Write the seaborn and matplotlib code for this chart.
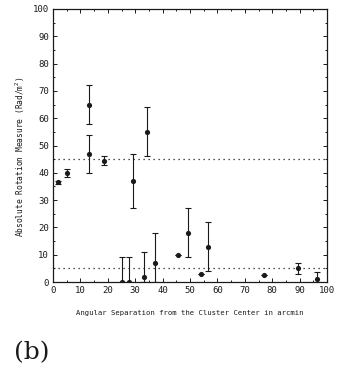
import matplotlib
matplotlib.use("Agg")
import matplotlib.pyplot as plt
from matplotlib.ticker import MultipleLocator
import numpy as np
import pandas as pd
import seaborn as sns

# Rotation measure versus angular distance from the cluster centre
separation = [1.7, 5.0, 13.3, 13.3, 18.7, 29.3, 34.2, 25.0, 27.9, 33.2, 37.2,
              45.7, 49.4, 54.0, 56.5, 77.0, 89.5, 96.5]
rm_value = [36.5, 40.0, 65.0, 47.0, 44.5, 37.0, 55.0, 0.0, 0.0, 2.0, 7.0,
            10.0, 18.0, 3.0, 13.0, 2.5, 5.0, 1.0]
rm_lower = [36.0, 38.5, 58.0, 40.0, 43.0, 27.0, 46.0, 0.0, 0.0, 0.0, 0.0,
            10.0, 9.0, 3.0, 4.0, 2.5, 3.0, 0.0]
rm_upper = [37.0, 41.5, 72.0, 54.0, 46.0, 47.0, 64.0, 9.0, 9.0, 11.0, 18.0,
            10.0, 27.0, 3.0, 22.0, 2.5, 7.0, 3.5]
reference_levels = [45.0, 5.0]

df = pd.DataFrame({"sep": separation, "rm": rm_value,
                   "lo": rm_lower, "hi": rm_upper})

sns.set_theme(style="ticks")
plt.rcParams["font.family"] = ["DejaVu Sans Mono"]

fig = plt.figure(figsize=(3.40, 3.72), dpi=100)
ax = fig.add_axes([53 / 340, 1 - 282 / 372, 274 / 340, 273 / 372])

ink = "#1a1a1a"
for y in reference_levels:
    ax.axhline(y, xmin=0.0, xmax=1.0, color=ink, lw=0.9,
               ls=(0, (1, 3)))

yerr = np.vstack([df["rm"] - df["lo"], df["hi"] - df["rm"]])
ax.errorbar(df["sep"], df["rm"], yerr=yerr, fmt="none", ecolor=ink,
            elinewidth=0.8, capsize=2.5, capthick=0.8)
sns.scatterplot(data=df, x="sep", y="rm", ax=ax, color=ink, s=14,
                edgecolor=ink, linewidth=0, zorder=3)

ax.set_xlim(0, 100)
ax.set_ylim(0, 100)
ax.xaxis.set_major_locator(MultipleLocator(10))
ax.yaxis.set_major_locator(MultipleLocator(10))
ax.xaxis.set_minor_locator(MultipleLocator(5))
ax.yaxis.set_minor_locator(MultipleLocator(5))
ax.tick_params(which="both", direction="in", top=True, right=True,
               color=ink, width=0.7, labelsize=6.5, labelcolor=ink, pad=3)
ax.tick_params(which="major", length=3)
ax.tick_params(which="minor", length=1.5)
for s in ax.spines.values():
    s.set_color(ink)
    s.set_linewidth(0.9)

ax.set_xlabel("Angular Separation from the Cluster Center in arcmin",
              fontsize=5.2, color=ink, labelpad=11)
ax.set_ylabel("Absolute Rotation Measure (Rad/m$^2$)",
              fontsize=5.7, color=ink, labelpad=4)
ax.yaxis.set_label_coords(-0.095, 0.46)

fig.text(14 / 340, 1 - 353 / 372, "(b)", fontsize=18, family="DejaVu Serif",
         color=ink, va="center", ha="left")

fig.savefig("out.png", dpi=100, facecolor="white")
